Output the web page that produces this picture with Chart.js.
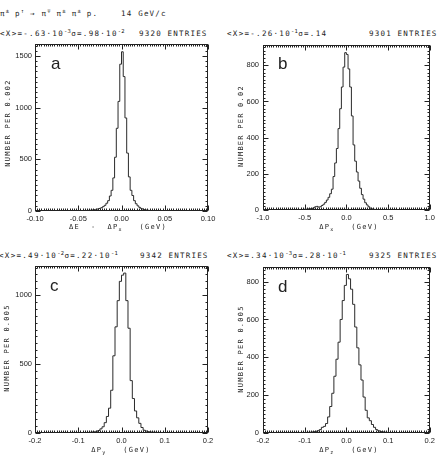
<!DOCTYPE html>
<html><head><meta charset="utf-8">
<script src="https://cdn.jsdelivr.net/npm/chart.js@4"></script>
<style>
html,body{margin:0;padding:0;background:#fff;}
body{width:438px;height:458px;position:relative;overflow:hidden;font-family:"DejaVu Sans Mono",monospace;color:#222;}
canvas{position:absolute;}
.t{position:absolute;white-space:pre;font-size:7.5px;letter-spacing:1.2px;line-height:8px;}
.s{letter-spacing:1.3px;}
.t sup{font-size:5.5px;vertical-align:3px;letter-spacing:0.3px;line-height:0;}
.yt{position:absolute;white-space:pre;font-size:7px;letter-spacing:1.25px;line-height:8px;transform:translate(-50%,-50%) rotate(-90deg);}
.xt{position:absolute;white-space:pre;font-size:7px;letter-spacing:1.3px;line-height:8px;transform:translate(-50%,-50%);}
.xt sub{font-size:5px;vertical-align:-2px;line-height:0;}
.L{position:absolute;font-family:"Liberation Sans",Arial,sans-serif;font-size:17px;line-height:17px;color:#222;}
</style>
</head><body>

<div class="t" style="left:0;top:10px;">π<sup>±</sup> p<sup>↑</sup> → π<sup>∓</sup> π<sup>±</sup> π<sup>±</sup> p.    14 GeV/c</div>

<div class="t s" style="left:0;top:30px;">&lt;X&gt;=-.63·10<sup>-3</sup>σ=.98·10<sup>-2</sup></div>
<div class="t" style="left:139px;top:30px;">9320 ENTRIES</div>
<div class="t s" style="left:227px;top:30px;">&lt;X&gt;=-.26·10<sup>-1</sup>σ=.14</div>
<div class="t" style="left:369px;top:30px;">9301 ENTRIES</div>
<div class="t s" style="left:-1px;top:252px;">&lt;X&gt;=.49·10<sup>-2</sup>σ=.22·10<sup>-1</sup></div>
<div class="t" style="left:140px;top:252px;">9342 ENTRIES</div>
<div class="t s" style="left:227px;top:252px;">&lt;X&gt;=.34·10<sup>-3</sup>σ=.28·10<sup>-1</sup></div>
<div class="t" style="left:369px;top:252px;">9325 ENTRIES</div>

<canvas id="ca" width="219" height="200" style="left:0;top:36px;"></canvas>
<canvas id="cb" width="219" height="200" style="left:219px;top:36px;"></canvas>
<canvas id="cc" width="219" height="200" style="left:0;top:258px;"></canvas>
<canvas id="cd" width="219" height="200" style="left:219px;top:258px;"></canvas>

<div class="yt" style="left:8px;top:123px;">NUMBER PER 0.002</div>
<div class="yt" style="left:241px;top:126px;">NUMBER PER 0.02</div>
<div class="yt" style="left:7px;top:348px;">NUMBER PER 0.005</div>
<div class="yt" style="left:241px;top:349px;">NUMBER PER 0.005</div>

<div class="xt" style="left:118px;top:227px;">ΔE  -  ΔP<sub>x</sub>   (GeV)</div>
<div class="xt" style="left:349px;top:227px;">ΔP<sub>x</sub>   (GeV)</div>
<div class="xt" style="left:121px;top:450px;">ΔP<sub>y</sub>   (GeV)</div>
<div class="xt" style="left:349px;top:450px;">ΔP<sub>z</sub>   (GeV)</div>

<div class="L" style="left:51px;top:55px;">a</div>
<div class="L" style="left:278px;top:55px;">b</div>
<div class="L" style="left:50px;top:277px;">c</div>
<div class="L" style="left:278px;top:278px;">d</div>

<script>
// ---- data ----
const aBinStart = -0.10, aBinWidth = 0.002;
const aCounts = [
  0,0,0,0,0,0,0,0,0,0, 0,0,0,0,0,0,0,0,0,0,
  1,1,2,2,2,3,3,4,5,5,
  6,7,8,10,13,16,20,25,32,42,
  55,75,100,145,200,320,520,800,1060,1420,
  1540,1300,900,560,330,200,150,100,70,50,
  35,25,18,13,9,7,5,4,3,2,
  2,1,1,0,0,0,0,0,0,0,
  0,0,0,0,0,0,0,0,0,0, 0,0,0,0,0,0,0,0,0,0
];
const bBinStart = -1.0, bBinWidth = 0.02;
const bCounts = [
  0,0,0,0,0,0,0,0,0,0,
  0,0,0,0,0,0,1,1,1,2,
  2,2,3,3,4,4,5,6,7,9,
  12,18,20,16,18,25,32,42,55,70,
  90,115,185,260,340,450,560,680,790,870,
  860,780,680,520,360,270,210,160,120,85,
  60,40,28,18,10,6,4,3,2,2,
  1,1,0,0,0,0,0,0,0,0,
  0,0,0,0,0,0,0,0,0,0, 0,0,0,0,0,0,0,0,0,0
];
const cBinStart = -0.20, cBinWidth = 0.005;
const cCounts = [
  0,0,0,0,0,0,0,0,0,0,
  0,0,0,0,0,0,0,1,1,1,
  2,2,3,3,4,5,7,9,12,18,
  30,45,75,120,180,310,560,770,960,1100,
  1145,1160,960,760,380,250,160,110,70,40,
  20,14,10,7,6,5,3,2,2,1,
  1,0,0,0,0,0,0,0,0,0,
  0,0,0,0,0,0,0,0,0,0
];
const dBinStart = -0.20, dBinWidth = 0.005;
const dCounts = [
  0,0,0,0,0,0,0,0,0,0,
  0,0,0,0,0,0,1,1,2,2,
  3,3,4,5,7,9,12,18,30,35,
  50,85,140,210,300,390,480,600,700,780,
  838,815,760,680,560,450,360,280,190,120,
  80,65,45,30,18,12,8,6,4,3,
  2,1,0,0,0,0,0,0,0,0,
  0,0,0,0,0,0,0,0,0,0
];
// axis ranges: [min, max, labelled tick step]
const aXTicks = [-0.10, 0.10, 0.05], aYTicks = [0, 1620, 500];
const bXTicks = [-1.0, 1.0, 0.5],   bYTicks = [0, 915, 200];
const cXTicks = [-0.2, 0.2, 0.1],   cYTicks = [0, 1215, 500];
const dXTicks = [-0.2, 0.2, 0.1],   dYTicks = [0, 880, 200];

// ---- drawing ----
function histPoints(counts, start, width) {
  const p = counts.map((v, i) => ({x: start + i * width, y: v}));
  p.push({x: start + counts.length * width, y: counts[counts.length - 1]});
  return p;
}
function tickValues(t) {
  const out = [];
  const n = Math.floor((t[1] - t[0]) / t[2] + 1e-6);
  for (let i = 0; i <= n; i++) out.push({value: t[0] + i * t[2]});
  return out;
}

const framePlugin = {
  id: 'frame',
  afterDatasetsDraw(chart, args, o) {
    const ctx = chart.ctx, ca = chart.chartArea, xs = chart.scales.x, ys = chart.scales.y;
    const L = Math.round(ca.left) + 0.5, R = Math.round(ca.right) - 0.5;
    const T = Math.round(ca.top) + 0.5, B = Math.round(ca.bottom) - 0.5;
    ctx.save();
    ctx.strokeStyle = '#222';
    ctx.lineWidth = 1;
    ctx.strokeRect(L, T, R - L, B - T);
    ctx.beginPath();
    const xn = Math.round((xs.max - xs.min) / o.xMajor * o.xSub);
    for (let i = 0; i <= xn; i++) {
      const v = xs.min + i * o.xMajor / o.xSub;
      const px = Math.round(xs.getPixelForValue(v)) + 0.5;
      const len = (i % o.xSub === 0) ? 5 : 2;
      ctx.moveTo(px, B); ctx.lineTo(px, B - len);
      ctx.moveTo(px, T); ctx.lineTo(px, T + len);
    }
    const yn = Math.floor((ys.max - ys.min) / o.yMajor * o.ySub + 1e-6);
    for (let i = 0; i <= yn; i++) {
      const v = ys.min + i * o.yMajor / o.ySub;
      const py = Math.round(ys.getPixelForValue(v)) + 0.5;
      const len = (i % o.ySub === 0) ? 5 : 2;
      ctx.moveTo(L, py); ctx.lineTo(L + len, py);
      ctx.moveTo(R, py); ctx.lineTo(R - len, py);
    }
    ctx.stroke();
    ctx.restore();
  }
};

function makeChart(id, counts, start, width, xt, yt, xDec, lay) {
  const tickFont = {family: 'Liberation Sans', size: 7.5};
  return new Chart(document.getElementById(id), {
    type: 'line',
    data: {datasets: [{
      data: histPoints(counts, start, width),
      stepped: true,
      borderColor: '#2a2a2a',
      borderWidth: 1,
      pointRadius: 0,
      fill: false,
      tension: 0
    }]},
    options: {
      responsive: false,
      animation: false,
      events: [],
      layout: {autoPadding: false, padding: {top: lay.top, right: lay.right, left: 0, bottom: 0}},
      plugins: {legend: {display: false}, tooltip: {enabled: false},
                frame: {xMajor: xt[2], xSub: lay.xSub, yMajor: yt[2], ySub: lay.ySub}},
      scales: {
        x: {
          type: 'linear', min: xt[0], max: xt[1],
          grid: {display: false, drawTicks: false}, border: {display: false},
          ticks: {autoSkip: false, maxRotation: 0, padding: 3, color: '#222', font: tickFont,
                  callback: v => (Math.abs(v) < 1e-9 ? 0 : v).toFixed(xDec)},
          afterBuildTicks: s => { s.ticks = tickValues(xt); },
          afterFit: s => { s.height = lay.xh; }
        },
        y: {
          type: 'linear', min: yt[0], max: yt[1],
          grid: {display: false, drawTicks: false}, border: {display: false},
          ticks: {autoSkip: false, padding: lay.ypad, color: '#222', font: tickFont,
                  callback: v => String(Math.round(v))},
          afterBuildTicks: s => { s.ticks = tickValues(yt); },
          afterFit: s => { s.width = lay.yw; }
        }
      }
    },
    plugins: [framePlugin]
  });
}

makeChart('ca', aCounts, aBinStart, aBinWidth, aXTicks, aYTicks, 2,
  {top: 6, right: 11, xh: 25, yw: 35, ypad: 3, xSub: 20, ySub: 10});
makeChart('cb', bCounts, bBinStart, bBinWidth, bXTicks, bYTicks, 1,
  {top: 6, right: 5, xh: 26, yw: 44, ypad: 4, xSub: 20, ySub: 10});
makeChart('cc', cCounts, cBinStart, cBinWidth, cXTicks, cYTicks, 1,
  {top: 5, right: 11, xh: 25, yw: 35, ypad: 3, xSub: 20, ySub: 10});
makeChart('cd', dCounts, dBinStart, dBinWidth, dXTicks, dYTicks, 1,
  {top: 5, right: 5, xh: 25, yw: 44, ypad: 4, xSub: 20, ySub: 10});
</script>
</body></html>
